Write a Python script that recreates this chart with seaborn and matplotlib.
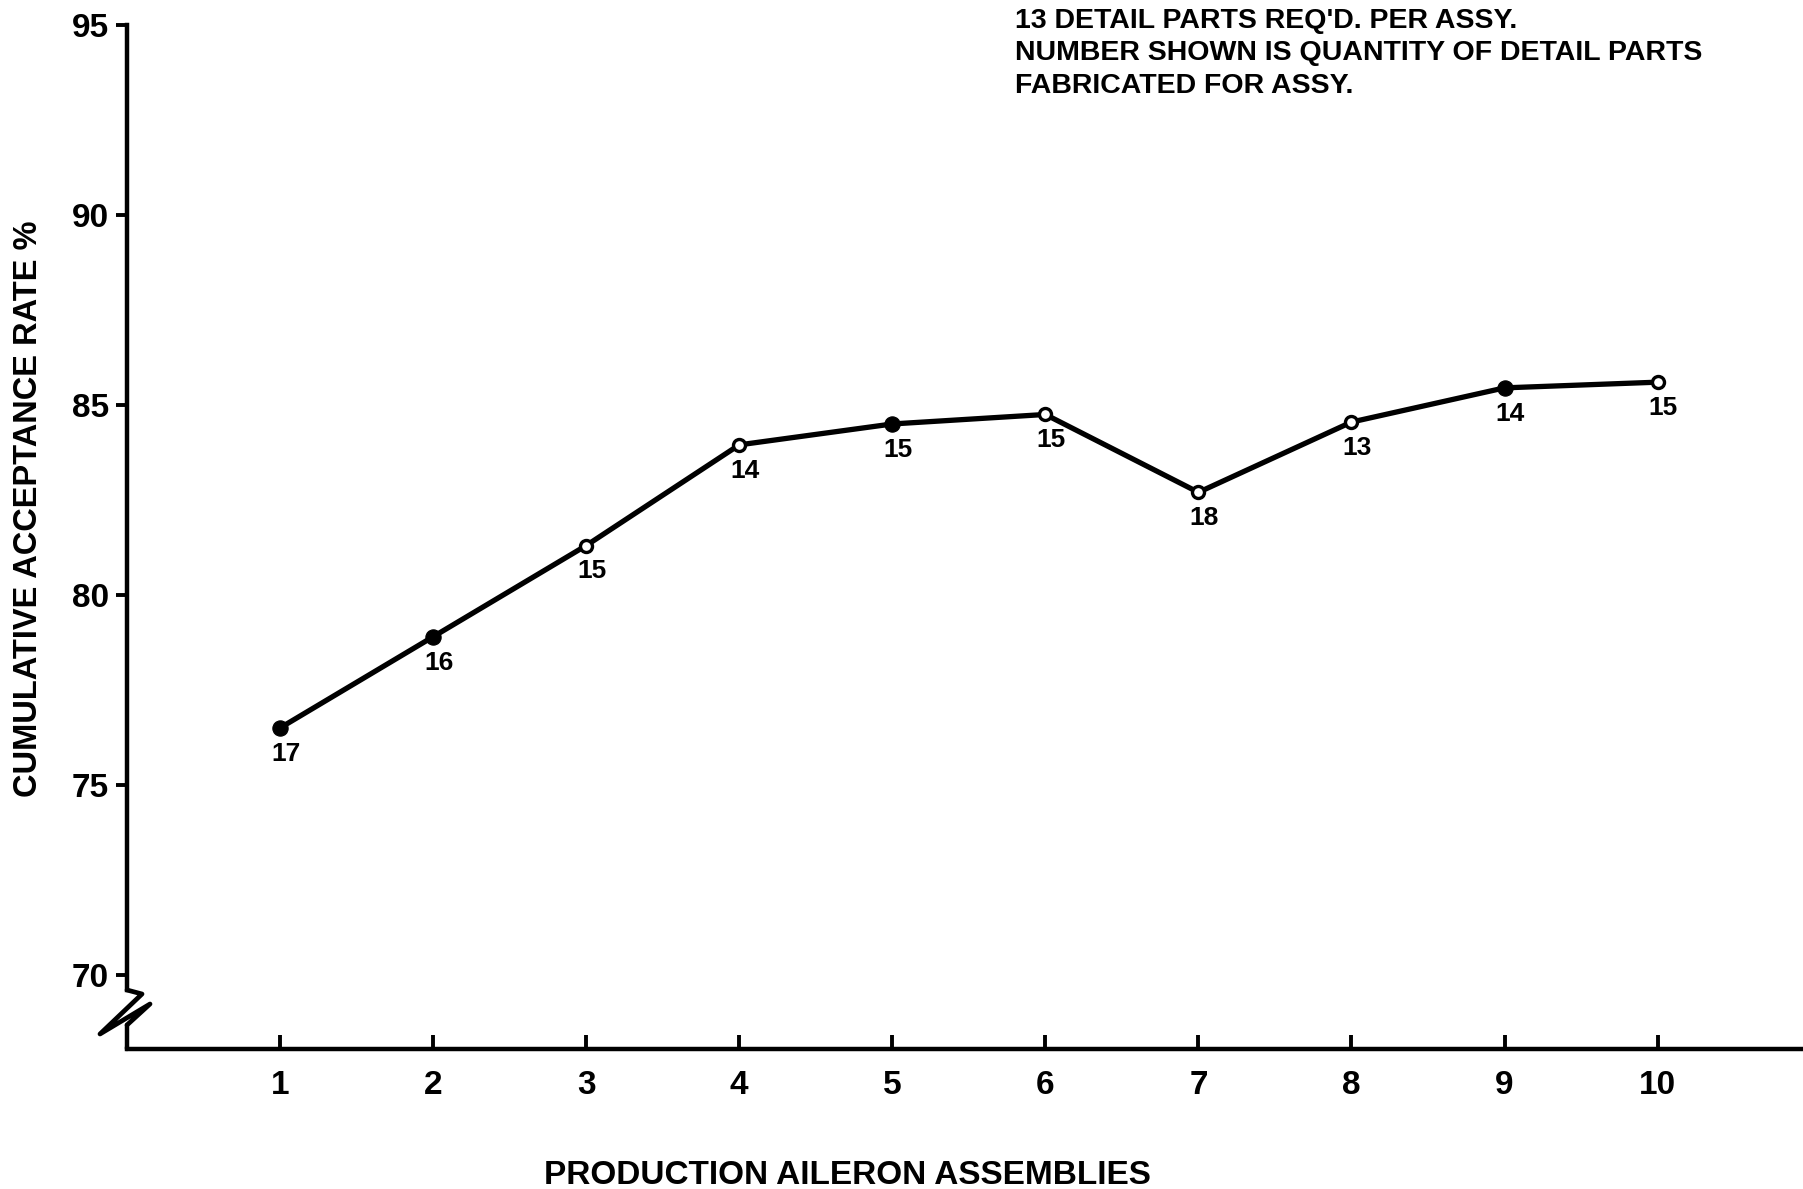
import pandas as pd
import seaborn as sns
import matplotlib.pyplot as plt

# data
assembly = [1, 2, 3, 4, 5, 6, 7, 8, 9, 10]
acceptance = [76.5, 78.9, 81.3, 83.95, 84.5, 84.75, 82.7, 84.55, 85.45, 85.6]
parts_made = [17, 16, 15, 14, 15, 15, 18, 13, 14, 15]
filled = [True, True, False, False, True, False, False, False, True, False]

y_ticks = [70, 75, 80, 85, 90, 95]
note = ("13 DETAIL PARTS REQ'D. PER ASSY.\n"
        "NUMBER SHOWN IS QUANTITY OF DETAIL PARTS\n"
        "FABRICATED FOR ASSY.")

df = pd.DataFrame({"Assembly": assembly, "Rate": acceptance,
                   "Parts": parts_made, "Filled": filled})

sns.set_theme(style="white")
plt.rcParams['font.family'] = ['Liberation Sans', 'DejaVu Sans']
plt.rcParams['font.weight'] = 'bold'
for k in ['text.color', 'axes.labelcolor', 'xtick.color', 'ytick.color']:
    plt.rcParams[k] = 'black'

W, H = 1803, 1189
fig = plt.figure(figsize=(W / 100, H / 100), dpi=100)
ax = fig.add_axes([127 / W, 1 - 1049 / H, 1 - 127 / W, (1049 - 25) / H])

sns.lineplot(data=df, x="Assembly", y="Rate", color="black", lw=3.8, ax=ax)
sns.scatterplot(data=df[df.Filled], x="Assembly", y="Rate", color="black",
                s=120, edgecolor="black", zorder=3, ax=ax)
sns.scatterplot(data=df[~df.Filled], x="Assembly", y="Rate", color="white",
                s=75, edgecolor="black", linewidth=2.4, zorder=3, ax=ax)

for _, r in df.iterrows():
    ax.annotate(str(r.Parts), (r.Assembly, r.Rate), xytext=(4, -10),
                textcoords="offset points", ha="center", va="top",
                fontsize=19, fontweight="bold", color="black")

ax.set_xlim(0, 10.95)
ax.set_ylim(68.05, 95)
ax.set_xticks(assembly)
ax.set_yticks(y_ticks)
ax.set_xlabel("")
ax.set_ylabel("")

for s in ["top", "right"]:
    ax.spines[s].set_visible(False)
for s in ["left", "bottom"]:
    ax.spines[s].set_linewidth(3.2)
    ax.spines[s].set_color("black")
ax.spines["left"].set_bounds(69.6, 95)

ax.tick_params(axis="x", direction="in", length=10, width=2.8, pad=15,
               labelsize=24, bottom=True, colors="black")
ax.tick_params(axis="y", direction="out", length=8, width=2.8, pad=5,
               labelsize=24, left=True, colors="black")
for t in ax.get_xticklabels() + ax.get_yticklabels():
    t.set_fontweight("bold")

# axis break squiggle at bottom of y axis
def px(x, y):
    return x / W, 1 - y / H

ax_break = [px(127, 1049), px(127, 1025)]
fig.lines.append(plt.Line2D([p[0] for p in ax_break], [p[1] for p in ax_break],
                            color="black", lw=3.2, transform=fig.transFigure))
zig = [px(127, 990), px(142, 994), px(100, 1034), px(150, 1004), px(127, 1025)]
fig.lines.append(plt.Line2D([p[0] for p in zig], [p[1] for p in zig],
                            color="black", lw=3.4, transform=fig.transFigure,
                            solid_joinstyle="round"))

fig.text(1015 / W, 1 - 8 / H, note, ha="left", va="top", fontsize=20.5,
         fontweight="bold", linespacing=1.32, color="black")
fig.text(29 / W, 1 - 509 / H, "CUMULATIVE ACCEPTANCE RATE %", rotation=90,
         ha="center", va="center", fontsize=23.5, fontweight="bold",
         color="black")
fig.text(847 / W, 1 - 1175 / H, "PRODUCTION AILERON ASSEMBLIES",
         ha="center", va="center", fontsize=24, fontweight="bold",
         color="black")

fig.savefig("out.png", dpi=100, facecolor="white")
